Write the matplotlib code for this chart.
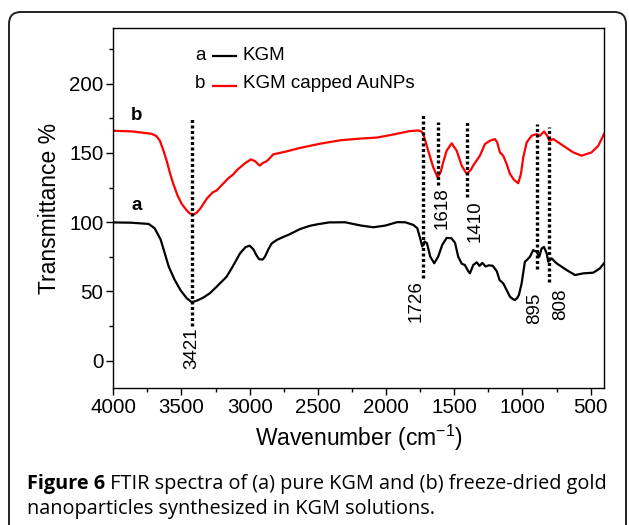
import numpy as np
import matplotlib
matplotlib.use("Agg")
import matplotlib.pyplot as plt
import matplotlib.patches as mpatches
from matplotlib.ticker import MultipleLocator
from matplotlib.transforms import IdentityTransform

plt.rcParams['font.family'] = ['Liberation Sans', 'DejaVu Sans']

# curve a: pure KGM (wavenumber, transmittance)
kgm_wn = [4000, 3870, 3741, 3697, 3653, 3624, 3594, 3550, 3506, 3462, 3425,
          3390, 3340, 3291, 3241, 3169, 3124, 3071, 3030, 3000, 2974, 2950,
          2930, 2905, 2888, 2865, 2839, 2800, 2754, 2712, 2631, 2560, 2500,
          2418, 2300, 2182, 2094, 2006, 1918, 1859, 1800, 1771, 1747, 1735,
          1718, 1700, 1676, 1647, 1618, 1588, 1556, 1521, 1494, 1471, 1445,
          1422, 1400, 1385, 1361, 1335, 1315, 1294, 1271, 1247, 1218, 1188,
          1168, 1141, 1116, 1092, 1070, 1055, 1040, 1026, 1006, 982, 962,
          945, 921, 896, 877, 859, 842, 822, 811, 786, 749, 676, 615, 554,
          481, 432, 403]
kgm_t = [99.8, 99.6, 98.7, 95.6, 87.5, 78.0, 68.0, 58.3, 50.7, 45.1, 42.2,
         43.2, 45.5, 48.7, 53.5, 60.6, 68.0, 77.4, 82.0, 83.0, 80.5, 76.0,
         73.2, 73.0, 75.0, 80.0, 84.6, 87.2, 89.3, 91.0, 95.0, 97.3, 98.5,
         99.8, 99.9, 97.5, 96.3, 97.5, 100.0, 99.9, 98.0, 95.6, 87.2, 82.4,
         86.0, 84.8, 75.1, 70.3, 75.1, 83.6, 88.6, 88.4, 85.0, 75.0, 70.0,
         69.0, 65.0, 63.0, 69.0, 71.0, 68.4, 70.6, 68.0, 68.8, 68.5, 64.5,
         58.2, 55.8, 51.0, 46.2, 44.4, 43.8, 45.0, 47.4, 55.8, 71.4, 73.2,
         75.0, 79.8, 78.6, 75.0, 81.0, 82.1, 77.4, 71.4, 73.8, 70.2, 65.4,
         61.8, 63.0, 63.5, 66.6, 70.2]

# curve b: KGM capped AuNPs
au_wn = [4000, 3860, 3718, 3682, 3658, 3630, 3609, 3580, 3560, 3530, 3499,
         3462, 3438, 3410, 3389, 3359, 3315, 3271, 3242, 3212, 3153, 3120,
         3094, 3035, 2991, 2960, 2935, 2924, 2903, 2875, 2850, 2827, 2741,
         2631, 2476, 2329, 2182, 2065, 1947, 1829, 1764, 1740, 1727, 1710,
         1691, 1654, 1622, 1600, 1581, 1556, 1519, 1482, 1446, 1409, 1380,
         1361, 1312, 1275, 1238, 1202, 1185, 1165, 1141, 1116, 1092, 1062,
         1031, 1011, 994, 969, 933, 896, 872, 842, 818, 803, 774, 701, 628,
         566, 493, 444, 408, 400]
au_t = [166.0, 165.5, 163.8, 162.0, 158.8, 151.0, 144.4, 134.0, 127.7, 119.5,
        113.3, 108.5, 106.2, 105.6, 106.8, 110.2, 116.9, 121.5, 122.9, 126.0,
        132.0, 134.5, 137.5, 142.5, 145.3, 144.0, 141.5, 140.9, 142.8, 144.0,
        146.5, 149.0, 150.8, 153.6, 156.8, 159.2, 160.4, 161.1, 163.3, 165.7,
        166.2, 165.5, 163.6, 158.0, 151.6, 139.6, 132.4, 136.0, 143.2, 151.6,
        156.9, 151.6, 140.9, 134.9, 137.5, 140.9, 148.0, 156.4, 158.8, 160.0,
        157.6, 150.4, 148.0, 142.0, 134.9, 130.6, 128.1, 134.9, 146.8, 157.6,
        162.4, 163.6, 162.4, 165.5, 162.4, 158.8, 160.0, 155.2, 150.4, 148.0,
        150.4, 155.2, 162.4, 164.0]

# marked bands
peak_wn = [3421, 1726, 1618, 1410, 895, 808]
peak_lbl = ['3421', '1726', '1618', '1410', '895', '808']

caption_bold = 'Figure 6'
caption_rest = ' FTIR spectra of (a) pure KGM and (b) freeze-dried gold'
caption_line2 = 'nanoparticles synthesized in KGM solutions.'


def main():
    fig = plt.figure(figsize=(6.29, 5.25), dpi=100)
    ax = fig.add_axes([0.1801, 0.2604, 0.7806, 0.6857])

    ax.plot(kgm_wn, kgm_t, color='black', lw=1.6)
    ax.plot(au_wn, au_t, color='#ff0000', lw=1.6)

    # dotted guide lines: (top, bottom) in data units, label top and x
    spans = [(175, 25), (179, 60), (172, 127), (174, 118), (171, 66), (169, 57)]
    lbl_x = [3421, 1776, 1590, 1345, 908, 722]
    lbl_top = [24, 58, 125, 116, 49, 52]
    for wn, (top, bot), lx, ly, txt in zip(peak_wn, spans, lbl_x, lbl_top, peak_lbl):
        ax.plot([wn, wn], [bot, top], color='black', lw=2.4,
                linestyle=(0, (0.9, 0.75)))
        ax.text(lx, ly, txt, rotation=90, ha='center', va='top', fontsize=13.5)

    ax.text(3828, 177, 'b', fontsize=13.5, fontweight='bold', ha='center', va='center')
    ax.text(3830, 112, 'a', fontsize=13.5, fontweight='bold', ha='center', va='center')

    # hand-built legend
    ax.text(3364, 220.5, 'a', fontsize=13.5, ha='center', va='center')
    ax.plot([3270, 3100], [220, 220], color='black', lw=1.6)
    ax.text(3049, 220.5, 'KGM', fontsize=13.5, ha='left', va='center')
    ax.text(3364, 200, 'b', fontsize=13.5, ha='center', va='center')
    ax.plot([3270, 3100], [198.5, 198.5], color='#ff0000', lw=1.6)
    ax.text(3049, 200, 'KGM capped AuNPs', fontsize=13.5, ha='left', va='center')

    ax.set_xlim(4000, 400)
    ax.set_ylim(-20, 240)
    ax.xaxis.set_major_locator(MultipleLocator(500))
    ax.xaxis.set_minor_locator(MultipleLocator(250))
    ax.yaxis.set_major_locator(MultipleLocator(50))
    ax.yaxis.set_minor_locator(MultipleLocator(25))
    ax.tick_params(which='both', direction='out', top=False, right=False,
                   labelsize=14.8, width=1.0)
    ax.tick_params(which='major', length=5, pad=2)
    ax.tick_params(which='minor', length=3)
    for sp in ax.spines.values():
        sp.set_linewidth(1.0)

    ax.set_xlabel('Wavenumber (cm$^{\\mathregular{-1}}$)', fontsize=16.5, labelpad=4)
    ax.set_ylabel('Transmittance %', fontsize=16.5, labelpad=6)

    # rounded frame around the figure panel
    frame = mpatches.FancyBboxPatch((9, -30), 617, 525 - 12 + 30,
                                    boxstyle='round,pad=0,rounding_size=12',
                                    transform=IdentityTransform(),
                                    fill=False, ec='#222222', lw=1.4)
    fig.patches.append(frame)

    # caption with bold lead-in
    renderer = fig.canvas.get_renderer()
    cap_kw = dict(fontsize=14.3, family=['Open Sans', 'DejaVu Sans'],
                  va='center', ha='left', color='black')
    t1 = fig.text(27 / 629, 1 - 484 / 525, caption_bold, fontweight='bold', **cap_kw)
    bb = t1.get_window_extent(renderer)
    fig.text(bb.x1 / 629, 1 - 484 / 525, caption_rest, **cap_kw)
    fig.text(27 / 629, 1 - 509 / 525, caption_line2, **cap_kw)

    fig.savefig('out.png', dpi=100)


if __name__ == '__main__':
    main()
